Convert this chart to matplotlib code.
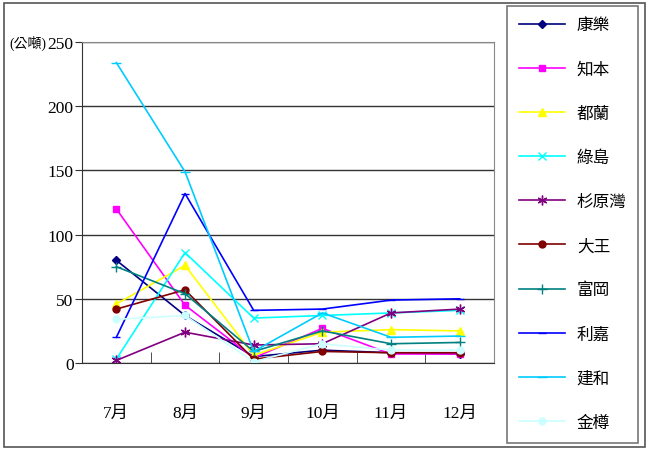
import matplotlib
matplotlib.use("Agg")
import matplotlib.pyplot as plt
from matplotlib.patches import Rectangle

plt.rcParams['font.family'] = ['Liberation Serif', 'Noto Sans CJK TC', 'DejaVu Sans']

# --- DATA ---
months = ['7月', '8月', '9月', '10月', '11月', '12月']
names = ['康樂', '知本', '都蘭', '綠島', '杉原灣', '大王', '富岡', '利嘉', '建和', '金樽']
kangle = [80, 37, 5, 10, 8, 7]
zhiben = [120, 45, 4, 27, 7, 7]
dulan = [46, 76, 6, 24, 26, 25]
lvdao = [3, 86, 35, 37, 39, 41]
shanyuan = [2, 24, 14, 15, 39, 42]
dawang = [42, 57, 3, 9, 8, 8]
fugang = [75, 54, 9, 25, 15, 16]
lijia = [20, 132, 41, 42, 49, 50]
jianhe = [234, 149, 9, 39, 20, 21]
jinzun = [34, 37, 1, 15, 10, 10]
series = [kangle, zhiben, dulan, lvdao, shanyuan, dawang, fugang, lijia, jianhe, jinzun]

# --- STYLE ---
colors = ['#000080', '#FF00FF', '#FFFF00', '#00FFFF', '#800080',
          '#800000', '#008080', '#0000FF', '#00CCFF', '#CCFFFF']
markers = ['D', 's', '^', 'x', (6, 2, 0), 'o', '+', '_', '_', 'o']
msizes = [4, 5, 6, 6, 7, 5, 7, 6, 7, 5]

fig = plt.figure(figsize=(6.54, 4.52), dpi=100)
fig.patches.append(Rectangle((0.006, 0.008), 0.981, 0.984, transform=fig.transFigure,
                             fill=False, edgecolor='#555555', linewidth=1.2))

ax = fig.add_axes([0.1254, 0.1947, 0.630, 0.710])
x = list(range(len(months)))
lines = []
for vals, c, m, ms, nm in zip(series, colors, markers, msizes, names):
    ln, = ax.plot(x, vals, color=c, marker=m, markersize=ms, linewidth=1.2,
                  markeredgecolor=c, markerfacecolor=c, label=nm)
    lines.append(ln)

ax.set_xlim(-0.5, 5.5)
ax.set_ylim(0, 250)
ax.set_yticks(range(0, 251, 50))
ax.set_yticklabels([str(v) for v in range(0, 251, 50)], fontsize=12.5)
ax.set_xticks(x)
ax.set_xticklabels(months, fontsize=12.5)
ax.tick_params(axis='x', length=0, pad=30)
ax.set_xticks([i + 0.5 for i in range(-1, 6)], minor=True)
ax.tick_params(axis='x', which='minor', direction='in', length=8, color='#333333')
ax.tick_params(axis='y', length=5, pad=1, color='#333333')
ax.grid(axis='y', color='#333333', linewidth=1)
ax.set_axisbelow(True)
for s in ['top', 'right']:
    ax.spines[s].set_color('#888888')
for s in ['left', 'bottom']:
    ax.spines[s].set_color('#333333')

fig.text(0.071, 0.903, '(公噸)', fontsize=10, va='center', ha='right')

leg = fig.legend(handles=lines, loc='upper left', bbox_to_anchor=(0.775, 0.985),
                 fontsize=12, frameon=True, fancybox=False, edgecolor='#555555',
                 handlelength=2.8, labelspacing=1.69, borderpad=0.7, handletextpad=0.7,
                 borderaxespad=0)
leg.get_frame().set_linewidth(1.2)

fig.savefig('out.png', dpi=100)
